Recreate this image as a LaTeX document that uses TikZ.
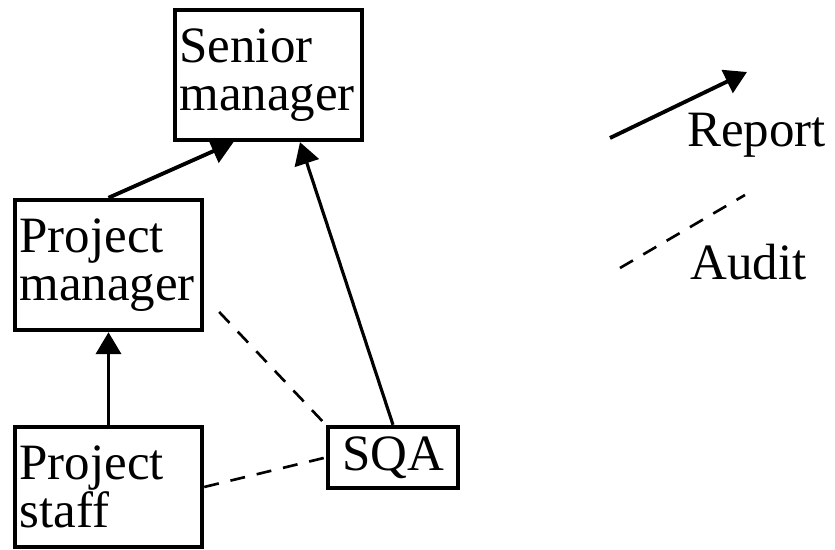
\documentclass[tikz,border=0pt]{standalone}
\usepackage{fontspec}
\setmainfont{Liberation Serif}
\usetikzlibrary{arrows.meta}

\tikzset{
  unit/.style={draw, line width=2.5pt, text width=3.56cm, align=left, inner xsep=0.09cm,
               minimum height=2.6cm, font=\fontsize{29}{27}\selectfont},
  report/.style={line width=2.2pt, -{Triangle[length=0.44cm, width=0.5cm]}},
  audit/.style={line width=1.5pt, dash pattern=on 0.3cm off 0.24cm}
}

\begin{document}
\begin{tikzpicture}
     \useasboundingbox (0,0) rectangle (16.7,11);

     \node[unit] (sm) at (5.37,9.5) {Senior\\manager};
     \node[unit] (pm) at (2.17,5.7) {Project\\manager};
     \node[unit, minimum height=2.4cm] (ps) at (2.17,1.26) {Project\\staff};
     \node[unit, text width=2.42cm, align=center, minimum height=1.22cm] (sqa) at (7.86,1.85) {SQA};

     \draw[report] (pm.north) -- ([xshift=-0.7cm]sm.south);
     \draw[report, line width=1.8pt] (sqa.north) -- ([xshift=0.63cm]sm.south);
     \draw[report] (ps.north) -- (pm.south);
     \draw[audit] ([xshift=0.3cm, yshift=-0.94cm]pm.east) -- (sqa.north west);
     \draw[audit] (ps.east) -- (sqa.west);

     % legend
     \coordinate (rep1) at (12.2,8.24);
     \coordinate (rep2) at (14.94,9.56);
     \draw[report] (rep1) -- (rep2);
     \node[anchor=base west, inner sep=0, font=\fontsize{29}{27}\selectfont] (rep) at (13.74,8.06) {Report};

     \coordinate (aud1) at (12.4,5.64);
     \coordinate (aud2) at (14.9,7.1);
     \draw[audit] (aud1) -- (aud2);
     \node[anchor=base west, inner sep=0, font=\fontsize{29}{27}\selectfont] (aud) at (13.8,5.4) {Audit};
\end{tikzpicture}
\end{document}
